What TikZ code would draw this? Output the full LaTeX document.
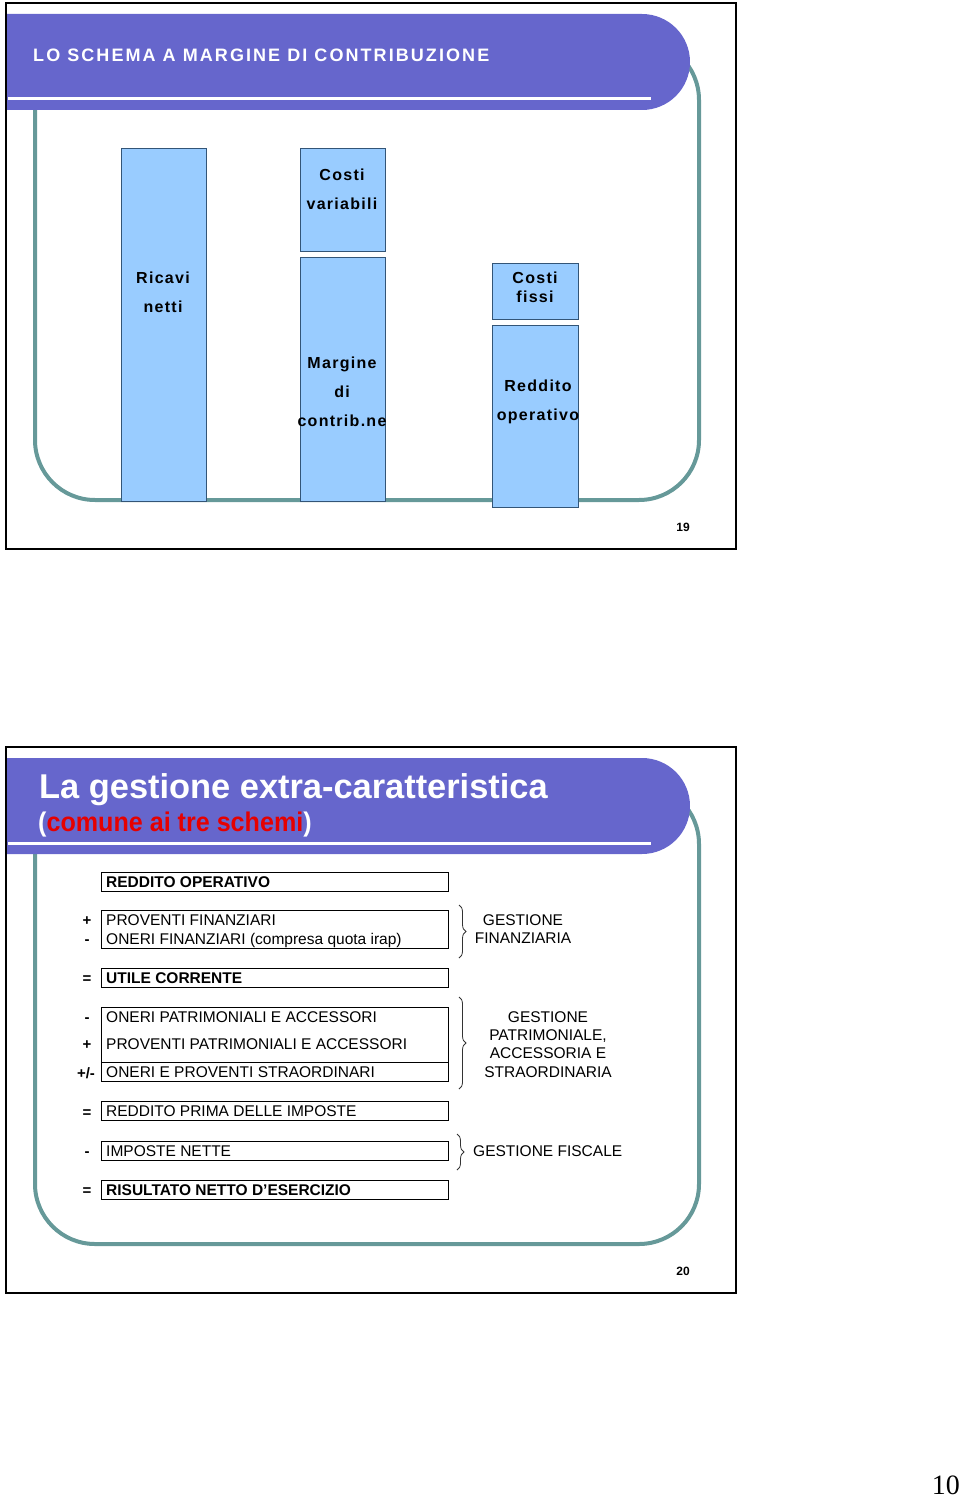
\documentclass[tikz,border=0pt]{standalone}
\usepackage{fontspec}
\setmainfont{Liberation Sans}
\newfontfamily\spacedfont[LetterSpace=8]{Liberation Sans}
\newfontfamily\widefont[LetterSpace=11.5]{Liberation Sans}
\newfontfamily\narrowfont[FakeStretch=0.93]{Liberation Sans}
\newfontfamily\seriffont{Liberation Serif}
\usetikzlibrary{decorations.pathreplacing}

\definecolor{bannerblue}{RGB}{102,102,204}
\definecolor{framegreen}{RGB}{102,153,153}
\definecolor{barfill}{RGB}{153,204,255}
\definecolor{barline}{RGB}{51,85,119}
\definecolor{subred}{RGB}{230,0,0}

\tikzset{
  slideborder/.style={line width=2pt},
  tealframe/.style={draw=framegreen, line width=4pt, rounded corners=60pt},
  pagenum/.style={font=\bfseries\fontsize{12}{12}\selectfont},
  bar/.style={draw=barline, fill=barfill, line width=1pt, inner sep=0pt, anchor=north west},
  barlabel/.style={align=center, inner sep=0pt, font=\spacedfont\bfseries\fontsize{16}{29}\selectfont},
  rowbox/.style={draw, line width=1pt, minimum width=347pt, inner sep=0pt, anchor=north west},
  rowtext/.style={anchor=west, inner sep=0pt, text height=11.2pt, text depth=0pt, font=\fontsize{15.5}{18}\selectfont},
  sign/.style={inner sep=0pt, text height=11.2pt, text depth=0pt, font=\bfseries\fontsize{15}{18}\selectfont},
  gbrace/.style={decorate, decoration={brace, amplitude=7pt}, line width=0.8pt, draw=black!80},
  gestlabel/.style={align=center, inner sep=0pt, font=\fontsize{15.5}{18.3}\selectfont}
}

% cornice di una slide (bordo, fascia del titolo, riquadro verde)
\newcommand{\slideframe}[1]{%
  \draw[slideborder] (6,3) rectangle (736,549);
  \draw[tealframe] (35,40) rectangle (699,500);
  \fill[bannerblue] (7,14) [rounded corners=48pt] -- (690,14) -- (690,110) [sharp corners] -- (7,110) -- cycle;
  \draw[white, line width=3pt] (8,99) -- (651,99);
  \node[pagenum] (pg#1) at (683,527) {#1};
}

\begin{document}
\begin{tikzpicture}[x=1pt, y=-1pt]
  \useasboundingbox (0,0) rectangle (960,1498);

  % slide 19
  \slideframe{19}
  \node[anchor=base west, text=white, inner sep=0pt,
        font=\widefont\bfseries\fontsize{18}{18}\selectfont] (title1) at (33,62)
        {LO SCHEMA A MARGINE DI CONTRIBUZIONE};

  \node[bar, minimum width=85pt, minimum height=353pt] (ricavi) at (121,148) {};
  \node[bar, minimum width=85pt, minimum height=103pt] (costivar) at (300,148) {};
  \node[bar, minimum width=85pt, minimum height=244pt] (margine) at (300,257) {};
  \node[bar, minimum width=86pt, minimum height=56pt] (costifissi) at (492,263) {};
  \node[bar, minimum width=86pt, minimum height=182pt] (reddito) at (492,325) {};

  \node[barlabel] (ricavitxt) at (163,292) {Ricavi\\netti};
  \node[barlabel] (costivartxt) at (342,189) {Costi\\variabili};
  \node[barlabel] (marginetxt) at (342,392) {Margine\\di\\contrib.ne};
  \node[barlabel, font=\spacedfont\bfseries\fontsize{16}{19}\selectfont] (costifissitxt) at (535,287) {Costi\\fissi};
  \node[barlabel] (redditotxt) at (538,402) {Reddito\\operativo};

  % slide 20
  \begin{scope}[shift={(0,744)}]
    \slideframe{20}
  \end{scope}
  \node[anchor=base west, text=white, inner sep=0pt,
        font=\bfseries\fontsize{34.4}{38}\selectfont] (title2) at (39,798)
        {La gestione extra-caratteristica};
  \node[anchor=base west, text=white, inner sep=0pt,
        font=\narrowfont\bfseries\fontsize{27}{30}\selectfont] (subtitle) at (38,831)
        {(\textcolor{subred}{comune ai tre schemi})};

  \node[rowbox, minimum height=19pt] (ro) at (101,872) {};
  \node[rowbox, minimum height=38pt] (fin) at (101,910) {};
  \node[rowbox, minimum height=19pt] (uc) at (101,968) {};
  \node[rowbox, minimum height=74pt] (pat) at (101,1007) {};
  \node[rowbox, minimum height=19pt] (rpi) at (101,1101) {};
  \node[rowbox, minimum height=19pt] (imp) at (101,1141) {};
  \node[rowbox, minimum height=19pt] (rn) at (101,1180) {};
  \draw[line width=1pt] (pat.west |- 0,1062) -- (pat.east |- 0,1062);

  \node[rowtext] (rotxt) at (106,881.5) {\bfseries REDDITO OPERATIVO};
  \node[rowtext] (pftxt) at (106,920) {PROVENTI FINANZIARI};
  \node[rowtext] (oftxt) at (106,939) {ONERI FINANZIARI (compresa quota irap)};
  \node[rowtext] (uctxt) at (106,977.5) {\bfseries UTILE CORRENTE};
  \node[rowtext] (optxt) at (106,1017) {ONERI PATRIMONIALI E ACCESSORI};
  \node[rowtext] (pptxt) at (106,1044) {PROVENTI PATRIMONIALI E ACCESSORI};
  \node[rowtext] (opstxt) at (106,1072) {ONERI E PROVENTI STRAORDINARI};
  \node[rowtext] (rpitxt) at (106,1110.5) {REDDITO PRIMA DELLE IMPOSTE};
  \node[rowtext] (imptxt) at (106,1150.5) {IMPOSTE NETTE};
  \node[rowtext] (rntxt) at (106,1189.5) {\bfseries RISULTATO NETTO D'ESERCIZIO};

  \node[sign] (s1) at (87,920) {+};
  \node[sign] (s2) at (87,939) {-};
  \node[sign] (s3) at (87,978) {=};
  \node[sign] (s4) at (87,1017) {-};
  \node[sign] (s5) at (87,1044) {+};
  \node[sign] (s6) at (86,1073) {+/-};
  \node[sign] (s7) at (87,1112) {=};
  \node[sign] (s8) at (87,1151) {-};
  \node[sign] (s9) at (87,1190) {=};

  \draw[gbrace] ([shift={(10,-5)}]fin.north east) -- ([shift={(10,9)}]fin.south east);
  \draw[gbrace] ([shift={(10,-10)}]pat.north east) -- ([shift={(10,7)}]pat.south east);
  \draw[gbrace] ([shift={(8,-7)}]imp.north east) -- ([shift={(8,9)}]imp.south east);

  \node[gestlabel] (gfin) at (523,929) {GESTIONE\\FINANZIARIA};
  \node[gestlabel] (gpat) at (548,1044.5) {GESTIONE\\PATRIMONIALE,\\ACCESSORIA E\\STRAORDINARIA};
  \node[gestlabel, anchor=west] (gfis) at (473,1151) {GESTIONE FISCALE};

  \node[anchor=base east, inner sep=0pt, font=\seriffont\fontsize{28}{28}\selectfont] (pageten) at (960,1494) {10};
\end{tikzpicture}
\end{document}
